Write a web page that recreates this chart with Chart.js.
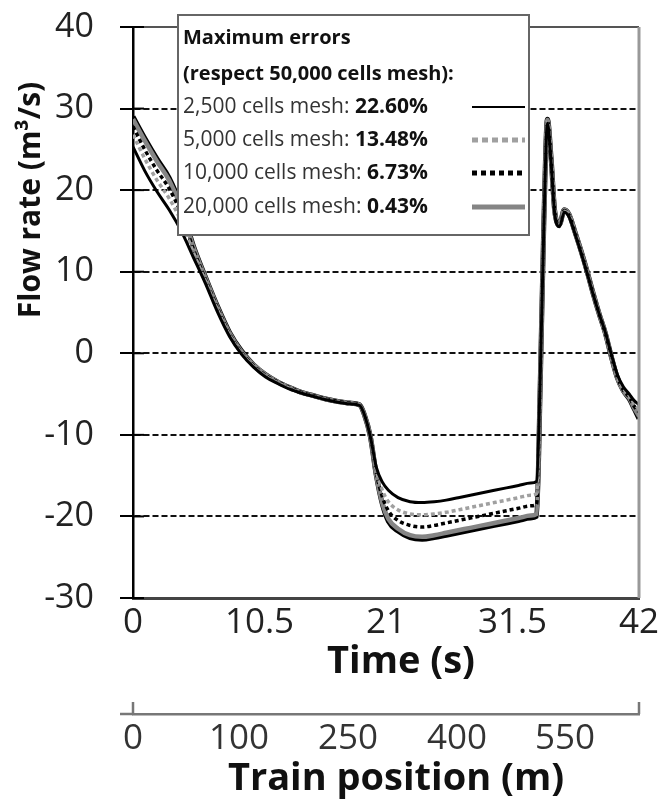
<!DOCTYPE html>
<html>
<head>
<meta charset="utf-8">
<script src="https://cdn.jsdelivr.net/npm/chart.js@4.4.1/dist/chart.umd.min.js"></script>
<style>
    html, body { margin: 0; padding: 0; background: #fff; }
    #wrap { width: 661px; height: 802px; }
</style>
</head>
<body>
<div id="wrap"><canvas id="flowChart"></canvas></div>
<script>
// time axis (s)
const times = [0, 1, 2, 3, 4, 5, 6, 7, 8, 9, 10, 11, 12, 13, 14, 15, 16, 17, 18,
    18.8, 19.2, 19.7, 20.2, 20.7, 21.2,
    22, 23, 24, 25, 26, 27, 28, 29, 30, 31, 32, 33,
    33.5, 33.8, 34.1, 34.4, 34.7, 35.0, 35.4, 35.8, 36.2,
    36.7, 37.2, 37.7, 38.2, 38.7, 39.2, 39.7, 40.2, 40.7, 41.2, 41.6, 42];

// flow rate (m3/s) per mesh
const mesh2500 = [25.3, 22.3, 19.8, 17.6, 15, 11.8, 8.6, 5.1, 2.1, -0.1, -1.7, -2.9, -3.7, -4.4, -4.9, -5.3, -5.7, -6, -6.2,
    -6.4, -7.5, -10.2, -14, -15.8, -16.8,
    -17.7, -18.2, -18.3, -18.2, -18, -17.7, -17.4, -17.1, -16.8, -16.5, -16.2, -15.9,
    -15.7, -3, 15.5, 28.2, 23.5, 17.2, 15.5, 17.3, 16.7,
    14.6, 12.3, 9.8, 7.2, 4.8, 2.6, -0.1, -2.6, -4.1, -5, -5.8, -6.3];
const mesh5000 = [26.8, 23.8, 21.2, 19, 16.2, 12.4, 8.9, 5.4, 2.3, 0, -1.6, -2.8, -3.6, -4.3, -4.9, -5.3, -5.7, -6, -6.2,
    -6.4, -7.5, -10.2, -14.4, -16.8, -18.2,
    -19.2, -19.7, -19.8, -19.7, -19.5, -19.2, -18.9, -18.6, -18.3, -18, -17.7, -17.4,
    -17.2, -3.4, 15.7, 28.4, 23.7, 17.3, 15.6, 17.4, 16.8,
    14.7, 12.4, 9.9, 7.2, 4.8, 2.5, -0.2, -2.8, -4.3, -5.2, -6.2, -6.8];
const mesh10000 = [27.8, 24.9, 22.4, 20.2, 17.1, 12.8, 9.1, 5.6, 2.4, 0.1, -1.5, -2.7, -3.5, -4.2, -4.8, -5.2, -5.6, -5.9, -6.1,
    -6.3, -7.5, -10.2, -14.7, -17.6, -19.3,
    -20.5, -21.1, -21.3, -21.1, -20.8, -20.5, -20.2, -19.9, -19.6, -19.3, -19, -18.7,
    -18.5, -3.7, 15.8, 28.5, 23.8, 17.4, 15.7, 17.5, 16.9,
    14.8, 12.4, 9.9, 7.3, 4.8, 2.5, -0.3, -2.9, -4.5, -5.4, -6.5, -7.2];
const mesh20000 = [28.7, 26, 23.5, 21.2, 17.8, 13.1, 9.3, 5.7, 2.5, 0.2, -1.4, -2.6, -3.5, -4.2, -4.8, -5.2, -5.6, -5.9, -6.1,
    -6.3, -7.5, -10.2, -15, -18.4, -20.3,
    -21.5, -22.3, -22.5, -22.3, -22, -21.7, -21.4, -21.1, -20.8, -20.5, -20.2, -19.9,
    -19.7, -3.9, 15.9, 28.6, 23.9, 17.5, 15.8, 17.6, 17,
    14.8, 12.5, 10, 7.3, 4.8, 2.5, -0.4, -3, -4.6, -5.5, -6.7, -7.7];
const mesh50000 = [29, 26.3, 23.8, 21.5, 18, 13.2, 9.4, 5.8, 2.6, 0.3, -1.4, -2.6, -3.5, -4.2, -4.8, -5.2, -5.6, -5.9, -6.1,
    -6.3, -7.5, -10.2, -15, -18.5, -20.6,
    -21.8, -22.6, -22.8, -22.6, -22.3, -22, -21.7, -21.4, -21.1, -20.8, -20.5, -20.2,
    -20, -4, 16, 28.7, 24, 17.5, 15.8, 17.6, 17,
    14.8, 12.5, 10, 7.3, 4.8, 2.5, -0.4, -3, -4.6, -5.6, -6.8, -8];

const meshLabels = ["2,500 cells mesh:", "5,000 cells mesh:", "10,000 cells mesh:", "20,000 cells mesh:"];
const maxErrors = ["22.60%", "13.48%", "6.73%", "0.43%"];
const legendTitle = ["Maximum errors", "(respect 50,000 cells mesh):"];

// axis ticks
const flowTicks = [-30, -20, -10, 0, 10, 20, 30, 40];
const timeTicks = [0, 10.5, 21, 31.5, 42];
const positionLabels = ["0", "100", "250", "400", "550"];
const positionTickTimes = [0, 8.8, 17.85, 26.9, 35.85];

const FONT = "'Open Sans', sans-serif";
Chart.defaults.font.family = FONT;

function pts(values) {
    return values.map((v, i) => ({ x: times[i], y: v }));
}

const lineStyles = [
    { color: "#000", width: 3, dash: [] },
    { color: "#a0a0a0", width: 3.5, dash: [4, 3] },
    { color: "#000", width: 3.5, dash: [4, 3] },
    { color: "#858585", width: 4.5, dash: [] }
];

const series = [mesh2500, mesh5000, mesh10000, mesh20000];
const datasets = series.map((s, i) => ({
    label: meshLabels[i],
    data: pts(s),
    borderColor: lineStyles[i].color,
    borderWidth: lineStyles[i].width,
    borderDash: lineStyles[i].dash,
    pointRadius: 0,
    cubicInterpolationMode: "monotone",
    fill: false
}));
datasets.push({
    label: "50,000 cells mesh",
    data: pts(mesh50000),
    borderColor: "#000",
    borderWidth: 5,
    pointRadius: 0,
    cubicInterpolationMode: "monotone",
    fill: false
});

const decor = {
    id: "decor",
    afterDatasetsDraw(chart) {
        const { ctx, chartArea: a, scales } = chart;
        ctx.save();
        // top and right frame
        ctx.strokeStyle = "#555";
        ctx.lineWidth = 2;
        ctx.beginPath();
        ctx.moveTo(a.left, a.top);
        ctx.lineTo(a.right, a.top);
        ctx.stroke();
        ctx.strokeStyle = "#999";
        ctx.lineWidth = 3;
        ctx.beginPath();
        ctx.moveTo(a.right, a.top);
        ctx.lineTo(a.right, a.bottom);
        ctx.stroke();
        // inner part of the y tick crosses
        ctx.strokeStyle = "#000";
        ctx.lineWidth = 2;
        scales.y.ticks.forEach(t => {
            const py = scales.y.getPixelForValue(t.value);
            ctx.beginPath();
            ctx.moveTo(a.left, py);
            ctx.lineTo(a.left + 11, py);
            ctx.stroke();
        });
        // train position axis end marks
        const x2 = scales.x2;
        ctx.strokeStyle = "#777";
        ctx.lineWidth = 2.5;
        ctx.beginPath();
        ctx.moveTo(a.left - 13, x2.top);
        ctx.lineTo(a.left, x2.top);
        ctx.moveTo(a.left, x2.top);
        ctx.lineTo(a.left, x2.top - 12);
        ctx.moveTo(a.right, x2.top);
        ctx.lineTo(a.right, x2.top - 12);
        ctx.stroke();

        // axis titles
        ctx.fillStyle = "#111";
        ctx.textAlign = "center";
        ctx.textBaseline = "middle";
        ctx.font = "bold 38px " + FONT;
        ctx.fillText("Time (s)", 401, 662);
        ctx.fillText("Train position (m)", 396, 779);
        ctx.font = "bold 30px " + FONT;
        ctx.translate(31, 200);
        ctx.rotate(-Math.PI / 2);
        ctx.fillText("Flow rate (m³/s)", 0, 0);
        ctx.restore();

        // legend box
        ctx.save();
        const bx = 178, by = 15, bw = 351, bh = 220;
        ctx.fillStyle = "#fff";
        ctx.fillRect(bx, by, bw, bh);
        ctx.strokeStyle = "#666";
        ctx.lineWidth = 2;
        ctx.strokeRect(bx, by, bw, bh);
        ctx.fillStyle = "#111";
        ctx.textAlign = "left";
        ctx.textBaseline = "middle";
        ctx.font = "bold 20px " + FONT;
        ctx.fillText(legendTitle[0], bx + 5, 38);
        ctx.fillText(legendTitle[1], bx + 5, 74);
        const rows = [107, 140, 173, 207];
        const sampleW = [2, 5, 5, 5];
        const sampleDash = [[], [6, 4], [5, 4], []];
        meshLabels.forEach((lab, i) => {
            const ry = rows[i];
            ctx.fillStyle = "#333";
            ctx.font = "21px " + FONT;
            ctx.fillText(lab + " ", bx + 5, ry);
            const w = ctx.measureText(lab + " ").width;
            ctx.fillStyle = "#111";
            ctx.font = "bold 21px " + FONT;
            ctx.fillText(maxErrors[i], bx + 5 + w, ry);
            ctx.strokeStyle = lineStyles[i].color;
            ctx.lineWidth = sampleW[i];
            ctx.setLineDash(sampleDash[i]);
            ctx.beginPath();
            ctx.moveTo(472, ry);
            ctx.lineTo(525, ry);
            ctx.stroke();
            ctx.setLineDash([]);
        });
        ctx.restore();
    }
};

new Chart(document.getElementById("flowChart"), {
    type: "line",
    data: { datasets: datasets },
    options: {
        responsive: true,
        maintainAspectRatio: false,
        animation: false,
        layout: { padding: { top: 27, right: 22, left: 0, bottom: 0 } },
        plugins: {
            legend: { display: false },
            tooltip: { enabled: false }
        },
        scales: {
            x: {
                type: "linear",
                min: 0,
                max: 42,
                afterBuildTicks: s => { s.ticks = timeTicks.map(v => ({ value: v })); },
                afterFit: s => { s.height = 116; },
                grid: { display: false },
                border: { display: true, color: "#444", width: 3 },
                ticks: {
                    autoSkip: false,
                    maxRotation: 0,
                    padding: -4,
                    color: "#222",
                    font: { size: 35 },
                    callback: v => String(v)
                }
            },
            x2: {
                type: "linear",
                position: "bottom",
                weight: 1,
                min: 0,
                max: 42,
                afterBuildTicks: s => { s.ticks = positionTickTimes.map(v => ({ value: v })); },
                afterFit: s => { s.height = 88; },
                grid: { display: false },
                border: { display: true, color: "#777", width: 2.5 },
                ticks: {
                    autoSkip: false,
                    maxRotation: 0,
                    padding: -4,
                    color: "#333",
                    font: { size: 35 },
                    callback: (v, i) => positionLabels[i]
                }
            },
            y: {
                min: -30,
                max: 40,
                afterBuildTicks: s => { s.ticks = flowTicks.map(v => ({ value: v })); },
                afterFit: s => {
                    s.width = 133;
                    s.paddingTop = 10;
                    s.paddingBottom = 10;
                },
                grid: {
                    color: c => (c.tick && (c.tick.value === 40 || c.tick.value === -30)) ? "rgba(0,0,0,0)" : "#111",
                    lineWidth: 2,
                    tickLength: 13,
                    tickColor: "#000",
                    tickWidth: 2
                },
                border: { display: true, color: "#000", width: 2.5, dash: [6, 3] },
                ticks: {
                    padding: 26,
                    color: "#222",
                    font: { size: 34 }
                }
            }
        }
    },
    plugins: [decor]
});
</script>
</body>
</html>
